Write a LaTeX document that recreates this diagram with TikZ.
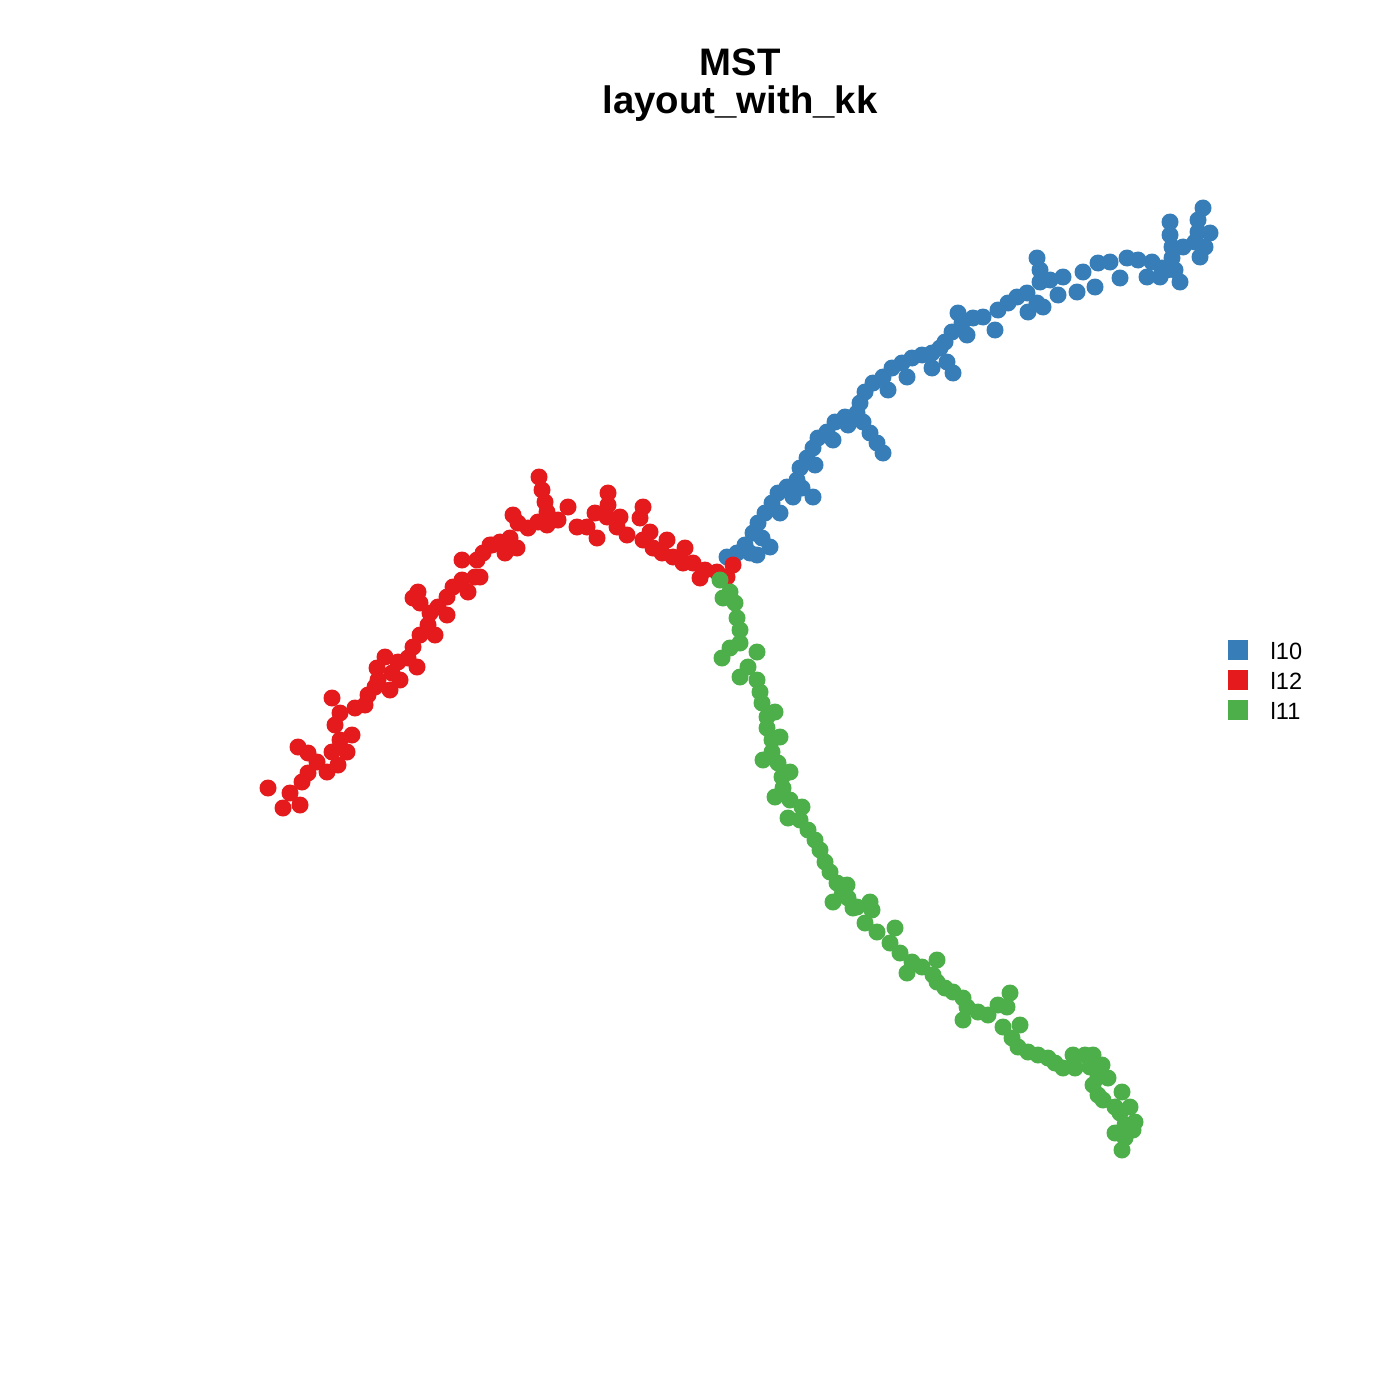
\documentclass[tikz,border=0pt]{standalone}
\usepackage{fontspec}
\setmainfont{Liberation Sans}
\definecolor{cblue}{HTML}{377EB8}
\definecolor{cred}{HTML}{E41A1C}
\definecolor{cgreen}{HTML}{4DAF4A}
\begin{document}
\begin{tikzpicture}[x=0.01cm,y=-0.01cm,
  dotb/.style={fill=cblue,draw=none},
  dotr/.style={fill=cred,draw=none},
  dotg/.style={fill=cgreen,draw=none},
  titletext/.style={font=\fontsize{10.9}{13}\selectfont\bfseries,anchor=base,inner sep=0pt},
  legtext/.style={font=\fontsize{6.7}{8}\selectfont,anchor=west,inner sep=0pt}]
\useasboundingbox[fill=white] (0,0) rectangle (1400,1400);
\def\rr{8.5}
% blue branch
\foreach \x/\y in {727/557,737/553,750/553,757/555,745/545,753/533,762/538,770/547,758/523,765/513,772/503,780/513,778/493,787/487,793/497,802/488,813/497,797/480,800/468,807/458,815/465,813/448,818/438,827/432,833/440,835/422,845/417,848/425,857/413,860/403,863/422,870/433,877/443,883/453,865/392,873/383,883/377,888/390,892/368,902/363,907/377,912/358,922/355,932/353,932/368,940/348,945/342,947/362,953/373,952/332,958/313,962/323,967/335,973/318,983/317,995/330,998/310,1008/303,1017/297,1027/293,1028/312,1037/303,1043/307,1037/258,1040/270,1040/282,1050/280,1058/295,1063/277,1077/292,1083/272,1095/287,1098/263,1110/262,1120/278,1127/258,1138/260,1147/277,1152/262,1160/277,1162/268,1167/270,1175/270,1180/282,1170/222,1170/235,1172/247,1172/258,1183/247,1195/242,1203/208,1198/220,1198/232,1210/233,1205/247,1200/257}
  \fill[dotb] (\x,\y) circle[radius=\rr];
% red branch
\foreach \x/\y in {268/788,283/808,300/805,290/793,302/782,308/773,298/747,308/753,317/762,327/772,338/765,332/752,347/752,340/740,352/735,335/725,340/713,332/698,355/708,365/705,368/695,375/687,378/680,377/668,385/657,390/690,392/673,400/680,398/662,408/658,417/667,413/647,420/635,428/625,435/635,430/613,420/603,413/598,418/592,438/607,447/615,447/597,453/587,462/580,468/592,475/577,462/560,477/560,483/553,492/545,500/542,480/577,490/545,505/553,517/548,510/538,513/515,518/523,528/528,538/522,547/525,547/512,545/502,542/490,539/477,558/520,568/507,577/527,587/527,595/513,597/538,607/517,608/493,608/505,620/517,617/527,627/535,640/518,643/507,650/532,643/540,653/548,667/540,662/553,673/557,685/548,683/563,693/563,700/578,705/570,717/572,727/577,733/565}
  \fill[dotr] (\x,\y) circle[radius=\rr];
% green branch
\foreach \x/\y in {720/580,730/592,723/598,735/603,737/618,740/630,740/643,730/648,722/658,757/652,748/667,740/677,757/680,760/692,762/703,775/712,767/717,767/728,772/740,780/737,772/752,763/760,778/763,790/772,782/777,783/788,775/797,790/800,802/807,788/818,800/820,808/830,815/840,820/850,825/862,830/872,837/883,847/885,833/902,848/898,857/907,870/902,872/910,842/895,853/908,865/923,877/932,895/928,890/943,900/953,907/973,912/962,922/967,937/960,933/975,937/982,945/988,953/992,963/998,967/1007,963/1020,978/1012,988/1015,998/1005,1010/993,1007/1007,1003/1027,1020/1025,1012/1038,1018/1047,1028/1052,1038/1055,1048/1058,1055/1063,1063/1068,1073/1055,1075/1068,1085/1055,1093/1055,1090/1067,1102/1065,1098/1077,1108/1078,1093/1085,1098/1095,1103/1100,1122/1092,1115/1107,1130/1107,1120/1113,1135/1122,1125/1125,1133/1130,1115/1133,1125/1138,1122/1150}
  \fill[dotg] (\x,\y) circle[radius=\rr];
% title
\node[titletext] (title1) at (740,76) {MST};
\node[titletext] (title2) at (740,114) {layout\_with\_kk};
% legend
\fill[cblue] (1228,640) rectangle (1248,660);
\fill[cred] (1228,670) rectangle (1248,690);
\fill[cgreen] (1228,700) rectangle (1248,720);
\node[legtext] (l10) at (1270,651) {l10};
\node[legtext] (l12) at (1270,681) {l12};
\node[legtext] (l11) at (1270,711) {l11};
\end{tikzpicture}
\end{document}
